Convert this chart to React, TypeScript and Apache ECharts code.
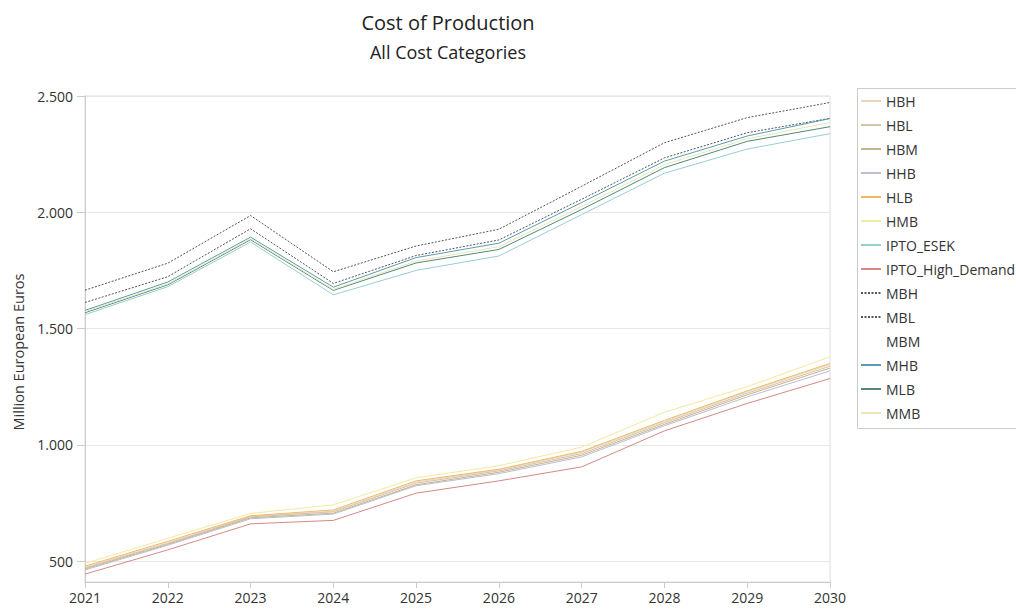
import React, { useEffect, useRef } from "react";
import * as echarts from "echarts";

const years = ["2021", "2022", "2023", "2024", "2025", "2026", "2027", "2028", "2029", "2030"];

const HBH = [474, 580, 692, 715, 840, 892, 968, 1100, 1228, 1345];
const HBL = [470, 576, 690, 712, 835, 888, 962, 1095, 1222, 1338];
const HBM = [466, 572, 686, 706, 828, 882, 955, 1088, 1215, 1330];
const HHB = [462, 568, 682, 702, 824, 876, 948, 1082, 1206, 1318];
const HLB = [478, 585, 695, 720, 845, 895, 972, 1105, 1232, 1350];
const HMB = [490, 598, 705, 742, 858, 910, 990, 1140, 1250, 1378];
const IPTO_ESEK = [1560, 1680, 1872, 1645, 1750, 1812, 1990, 2168, 2272, 2338];
const IPTO_High_Demand = [444, 548, 660, 675, 792, 845, 905, 1060, 1178, 1285];
const MBH = [1665, 1781, 1986, 1744, 1855, 1927, 2112, 2299, 2407, 2472];
const MBL = [1612, 1723, 1929, 1694, 1814, 1881, 2056, 2234, 2342, 2404];
const MBM = [1570, 1690, 1884, 1666, 1786, 1846, 2018, 2198, 2310, 2378];
const MHB = [1578, 1700, 1893, 1678, 1805, 1867, 2042, 2220, 2328, 2403];
const MLB = [1568, 1688, 1882, 1664, 1782, 1840, 2012, 2192, 2305, 2368];
const MMB = [1572, 1692, 1886, 1668, 1790, 1852, 2025, 2205, 2316, 2386];

const yTicks = [500, 1000, 1500, 2000, 2500];

const seriesDefs: { name: string; data: number[]; color: string; dotted?: boolean; z?: number }[] = [
  { name: "HBH", data: HBH, color: "#e6d8c0" },
  { name: "HBL", data: HBL, color: "#d6c2a6" },
  { name: "HBM", data: HBM, color: "#c4b48a" },
  { name: "HHB", data: HHB, color: "#bcbdd6" },
  { name: "HLB", data: HLB, color: "#f2b866" },
  { name: "HMB", data: HMB, color: "#f2e9a2" },
  { name: "IPTO_ESEK", data: IPTO_ESEK, color: "#98cdd2" },
  { name: "IPTO_High_Demand", data: IPTO_High_Demand, color: "#d38a84" },
  { name: "MBH", data: MBH, color: "#555555", dotted: true },
  { name: "MBL", data: MBL, color: "#555555", dotted: true },
  { name: "MBM", data: MBM, color: "#ffffff", z: 1 },
  { name: "MHB", data: MHB, color: "#5a9bb3" },
  { name: "MLB", data: MLB, color: "#52897a" },
  { name: "MMB", data: MMB, color: "#e9e6b4" },
];

const fmt = (v: number) =>
  v >= 1000 ? Math.floor(v / 1000) + "." + String(v % 1000).padStart(3, "0") : String(v);

const FONT = "'Open Sans', 'Noto Sans', sans-serif";

export default function App() {
  const ref = useRef<HTMLDivElement>(null);
  useEffect(() => {
    document.body.style.margin = "0";
    if (!ref.current) return;
    const chart = echarts.init(ref.current, null, { renderer: "svg" });
    chart.setOption({
      animation: false,
      textStyle: { fontFamily: FONT },
      grid: {
        left: 85,
        right: 186,
        top: 96,
        bottom: 33,
        show: true,
        borderColor: "#dddddd",
        borderWidth: 1,
        containLabel: false,
      },
      graphic: [
        {
          type: "text",
          x: 448,
          y: 22,
          style: {
            text: "Cost of Production",
            fill: "#222",
            font: `20px ${FONT}`,
            textAlign: "center",
            textVerticalAlign: "middle",
          },
        },
        {
          type: "text",
          x: 448,
          y: 52,
          style: {
            text: "All Cost Categories",
            fill: "#222",
            font: `18px ${FONT}`,
            textAlign: "center",
            textVerticalAlign: "middle",
          },
        },
        {
          type: "text",
          x: 18,
          y: 352,
          rotation: Math.PI / 2,
          style: {
            text: "Million European Euros",
            fill: "#333",
            font: `14.5px ${FONT}`,
            textAlign: "center",
            textVerticalAlign: "middle",
          },
        },
        {
          type: "rect",
          shape: { x: 857.5, y: 88.5, width: 200, height: 340 },
          style: { fill: "none", stroke: "#cccccc", lineWidth: 1 },
        },
      ],
      legend: {
        orient: "vertical",
        left: 860,
        top: 94,
        itemWidth: 20,
        itemHeight: 14,
        itemGap: 10,
        padding: 0,
        itemStyle: { opacity: 0 },
        textStyle: { fontSize: 14, color: "#333", fontFamily: FONT },
        data: seriesDefs.map((s) => s.name),
      },
      xAxis: {
        type: "category",
        data: years,
        boundaryGap: false,
        axisLine: { lineStyle: { color: "#cccccc" } },
        axisTick: { show: true, length: 6, lineStyle: { color: "#cccccc" } },
        axisLabel: { fontSize: 14, color: "#333", margin: 8, fontFamily: FONT },
        splitLine: { show: false },
      },
      yAxis: {
        type: "value",
        min: 410,
        max: 2500,
        axisLine: { show: true, lineStyle: { color: "#cccccc" } },
        axisTick: { show: true, length: 8, lineStyle: { color: "#cccccc" }, customValues: yTicks },
        axisLabel: {
          fontSize: 14,
          color: "#333",
          margin: 12,
          fontFamily: FONT,
          customValues: yTicks,
          formatter: (v: number) => fmt(v),
        },
        splitLine: { show: true, lineStyle: { color: "#e8e8e8" } },
      },
      series: seriesDefs.map((s) => ({
        name: s.name,
        type: "line",
        data: s.data,
        symbol: "none",
        z: s.z ?? 2,
        color: s.color,
        lineStyle: {
          color: s.color,
          width: 1,
          type: s.dotted ? [2, 1.5] : "solid",
        },
        emphasis: { disabled: true },
      })),
    });
    return () => chart.dispose();
  }, []);
  return <div ref={ref} style={{ width: 1016, height: 615 }} />;
}
